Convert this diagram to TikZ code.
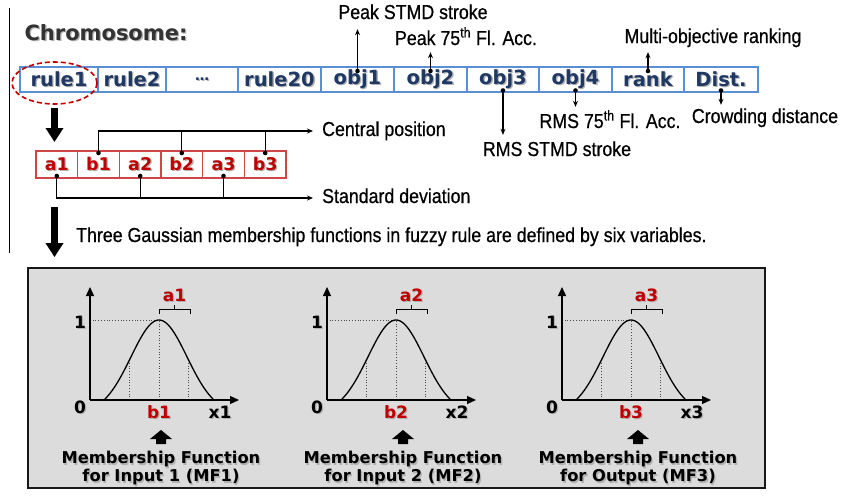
\documentclass[tikz,border=0pt]{standalone}
\usepackage{fontspec}
\setmainfont{Liberation Sans}
\newfontfamily\labf[FakeStretch=0.88,FakeBold=0.6]{Liberation Sans}
\newfontfamily\hvy{DejaVu Sans}
\usetikzlibrary{arrows.meta,calc,shapes.geometric}
\definecolor{navy}{HTML}{1F3864}
\definecolor{dred}{HTML}{C00000}
\definecolor{cellblue}{HTML}{5B8FD4}
\definecolor{cellred}{HTML}{D04545}
\definecolor{panelgray}{HTML}{DCDCDC}
\newcommand\shtxt[2][black]{\makebox[0pt][l]{\kern1.3pt\raisebox{-1.3pt}{\textcolor{black!30}{#2}}}\textcolor{#1}{#2}}
\begin{document}
\begin{tikzpicture}[x=1pt,y=-1pt,
  bcell/.style={draw=cellblue, line width=1.4pt, minimum height=25pt, inner sep=0pt, outer sep=0pt,
    font=\hvy\bfseries\fontsize{19.5}{22}\selectfont},
  rcell/.style={draw=cellred, line width=1.2pt, minimum height=27pt, minimum width=41.67pt, inner sep=0pt, outer sep=0pt,
    font=\hvy\bfseries\fontsize{17.5}{20}\selectfont},
  lab/.style={font=\labf\fontsize{20.2}{22}\selectfont, inner sep=0pt, text height=13pt, text depth=3pt},
  num/.style={font=\hvy\bfseries\fontsize{17}{18}\selectfont, inner sep=0pt},
  captext/.style={font=\hvy\bfseries\fontsize{16.3}{18}\selectfont, inner sep=0pt, align=center},
  conn/.style={line width=1.3pt, -{Stealth[length=6pt,width=5pt]}},
  plain/.style={line width=1.3pt},
  bigarrow/.style={line width=6.5pt, -{Triangle[width=17pt,length=14pt]}},
  axis/.style={line width=1.3pt, -{Triangle[length=9pt,width=8pt]}},
  guide/.style={dotted, line width=0.8pt, black!70}]
\useasboundingbox (0,0) rectangle (844,498);

% left border line
\coordinate (lt) at (9,8);
\coordinate (lb) at (9,253);
\draw[line width=0.8pt] (lt) -- (lb);

% title
\node[font=\hvy\bfseries\fontsize{21}{24}\selectfont, inner sep=0pt] (title) at (106,33) {\shtxt[black!80]{Chromosome:}};

% chromosome cells
\node[bcell, minimum width=78pt] (rule1) at (59,79.5) {\shtxt[navy]{rule1}};
\node[bcell, minimum width=68pt] (rule2) at (132,79.5) {\shtxt[navy]{rule2}};
\node[bcell, minimum width=72pt] (dots) at (202,79.5) {\shtxt[navy]{\fontsize{14}{14}\selectfont …}};
\node[bcell, minimum width=83pt] (rule20) at (279.5,79.5) {\shtxt[navy]{rule20}};
\node[bcell, minimum width=73pt] (obj1) at (357.5,79.5) {\shtxt[navy]{obj1}};
\node[bcell, minimum width=73pt] (obj2) at (430.5,79.5) {\shtxt[navy]{obj2}};
\node[bcell, minimum width=72pt] (obj3) at (503,79.5) {\shtxt[navy]{obj3}};
\node[bcell, minimum width=73pt] (obj4) at (575.5,79.5) {\shtxt[navy]{obj4}};
\node[bcell, minimum width=72pt] (rank) at (648,79.5) {\shtxt[navy]{rank}};
\node[bcell, minimum width=74pt] (dist) at (721,79.5) {\shtxt[navy]{Dist.}};

% selection ellipse
\node[draw=dred, dash pattern=on 5pt off 3pt, line width=1.6pt, ellipse, minimum width=85pt, minimum height=42pt, inner sep=0pt] (sel) at (54.5,83) {};

% objective labels
\node[lab] (pk1) at (413,14) {Peak STMD stroke};
\node[lab] (pk2) at (466,40) {Peak 75\textsuperscript{th} Fl. Acc.};
\node[lab] (mor) at (713,38) {Multi-objective ranking};
\node[lab] (rms1) at (557,151) {RMS STMD stroke};
\node[lab] (rms2) at (610,123) {RMS 75\textsuperscript{th} Fl. Acc.};
\node[lab] (crowd) at (765,118) {Crowding distance};

\foreach \n in {obj1,obj2,rank}{\fill ([yshift=-4pt]\n.north) circle (2.3pt);}
\foreach \n in {obj3,obj4,dist}{\fill ([yshift=1.5pt]\n.south) circle (2.3pt);}
\draw[conn, shorten >=7pt] ([yshift=-4pt]obj1.north) -- (obj1.north |- pk1.south);
\draw[conn, shorten >=4pt] ([yshift=-4pt]obj2.north) -- (obj2.north |- pk2.south);
\draw[conn, shorten >=6pt] ([yshift=-4pt]rank.north) -- (rank.north |- mor.south);
\draw[conn, shorten >=8pt] ([yshift=1.5pt]obj3.south) -- (obj3.south |- rms1.north);
\draw[conn, shorten >=8pt] ([yshift=1.5pt]obj4.south) -- (obj4.south |- rms2.north);
\draw[conn, shorten >=5pt] ([yshift=1.5pt]dist.south) -- (dist.south |- crowd.north);

% rule cells
\node[rcell] (a1) at (56.8,164.5) {\shtxt[dred]{a1}};
\node[rcell] (b1) at (98.5,164.5) {\shtxt[dred]{b1}};
\node[rcell] (a2) at (140.2,164.5) {\shtxt[dred]{a2}};
\node[rcell] (b2) at (181.8,164.5) {\shtxt[dred]{b2}};
\node[rcell] (a3) at (223.5,164.5) {\shtxt[dred]{a3}};
\node[rcell] (b3) at (265.2,164.5) {\shtxt[dred]{b3}};

\draw[bigarrow, shorten <=3pt, shorten >=9pt] (sel.south) -- (sel.south |- a1.north);

\node[lab, anchor=west] (cp) at (322,131) {Central position};
\node[lab, anchor=west] (sd) at (322,198) {Standard deviation};

\foreach \n in {b1,b2,b3}{\fill ([yshift=-2pt]\n.north) circle (2.3pt);}
\foreach \n in {a1,a2,a3}{\fill ([yshift=2pt]\n.south) circle (2.3pt);}
\draw[conn, shorten >=9pt] ([yshift=-2pt]b1.north) |- (cp.west);
\draw[plain] ([yshift=-2pt]b2.north) -- (b2.north |- cp.west);
\draw[plain] ([yshift=-2pt]b3.north) -- (b3.north |- cp.west);
\draw[conn, shorten >=9pt] ([yshift=2pt]a1.south) |- (sd.west);
\draw[plain] ([yshift=2pt]a2.south) -- (a2.south |- sd.west);
\draw[plain] ([yshift=2pt]a3.south) -- (a3.south |- sd.west);

\node[lab, anchor=west] (three) at (76,237) {Three Gaussian membership functions in fuzzy rule are defined by six variables.};

% panel
\node[draw=black!90, line width=1.8pt, fill=panelgray, minimum width=737pt, minimum height=220pt, inner sep=0pt] (panel) at (396.5,378) {};

\draw[bigarrow, shorten >=10pt] ([yshift=-29pt]a1.south -| sel.south) -- (sel.south |- panel.north);

% membership function plots
\foreach \i/\dx/\cx/\ct in {1/0/161/{for Input 1 (MF1)},2/237/403/{for Input 2 (MF2)},3/472/638/{for Output (MF3)}}{
  \begin{scope}[xshift=\dx pt]
    \coordinate (o\i) at (90,400);
    \coordinate (yt\i) at (90,287);
    \coordinate (xt\i) at (239,400);
    \draw[guide] (129.5,400) -- (129.5,360) (188.5,400) -- (188.5,360) (159,400) -- (159,320) -- (90,320);
    \draw[line width=1.3pt] plot[domain=-55:55, samples=61, smooth] ({159+\x},{400-80*(exp(-0.5*(\x/28)*(\x/28))-0.1453)/0.8547});
    \draw[axis] (o\i) -- (yt\i);
    \draw[axis] (o\i) -- (xt\i);
    \node[num] (p1\i) at (80,323) {\shtxt{1}};
    \node[num] (p0\i) at (80,408) {\shtxt{0}};
    \node[num] (pb\i) at (159,413) {\shtxt[dred]{b\i}};
    \node[num] (px\i) at (220,413) {\shtxt{x\i}};
    \node[num] (pa\i) at (174.5,296) {\shtxt[dred]{a\i}};
    \draw[line width=1pt] (159,314) -- (159,309) -- (190,309) -- (190,314) (174.5,309) -- (174.5,305);
  \end{scope}
  \fill (\cx,430) -- (\cx+11,439) -- (\cx+5,439) -- (\cx+5,444) -- (\cx-5,444) -- (\cx-5,439) -- (\cx-11,439) -- cycle;
  \node[captext] (cap\i) at (\cx,469) {\shtxt{Membership Function}\\\shtxt{\ct}};
}
\end{tikzpicture}
\end{document}
